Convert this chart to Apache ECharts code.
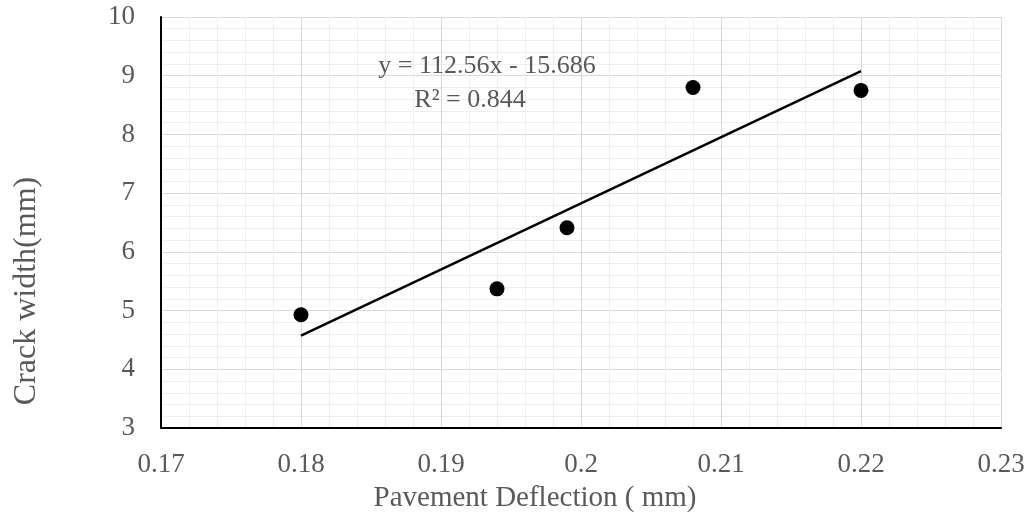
<!DOCTYPE html>
<html><head><meta charset="utf-8">
<script src="https://cdn.jsdelivr.net/npm/echarts@6/dist/echarts.min.js"></script>
<style>html,body{margin:0;padding:0;background:#fff}#c{width:1030px;height:515px}</style>
</head><body><div id="c"></div>
<script>
const deflection = [0.18, 0.194, 0.199, 0.208, 0.22];
const crackWidth = [4.93, 5.37, 6.41, 8.80, 8.75];
const slope = 112.56, intercept = -15.686;
const trendX = [0.18, 0.22];
const equationText = 'y = 112.56x - 15.686';
const r2Text = 'R² = 0.844';
const xTitle = 'Pavement Deflection ( mm)';
const yTitle = 'Crack width(mm)';

const trend = trendX.map(x => [x, slope * x + intercept]);
const font = 'Liberation Serif';
const grey = '#595959';
const chart = echarts.init(document.getElementById('c'));
chart.setOption({
  animation: false,
  grid: {left: 161, right: 29, top: 17, bottom: 87},
  xAxis: {
    type: 'value', min: 0.17, max: 0.23, interval: 0.01,
    axisLine: {show: true, lineStyle: {color: '#000', width: 2}},
    axisTick: {show: false},
    axisLabel: {color: grey, fontFamily: font, fontSize: 27, margin: 23, formatter: v => String(+v.toFixed(2))},
    splitLine: {show: true, lineStyle: {color: '#d9d9d9', width: 1}},
    minorSplitLine: {show: true, lineStyle: {color: '#efefef', width: 1}},
    minorTick: {show: false, splitNumber: 5}
  },
  yAxis: {
    type: 'value', min: 3, max: 10, interval: 1,
    axisLine: {show: true, lineStyle: {color: '#000', width: 2}},
    axisTick: {show: false},
    axisLabel: {color: grey, fontFamily: font, fontSize: 27, margin: 26},
    splitLine: {show: true, lineStyle: {color: '#d9d9d9', width: 1}},
    minorSplitLine: {show: true, lineStyle: {color: '#efefef', width: 1}},
    minorTick: {show: false, splitNumber: 5}
  },
  series: [
    {type: 'line', data: trend, symbol: 'none', lineStyle: {color: '#000', width: 2.5}, z: 2},
    {type: 'scatter', data: deflection.map((x, i) => [x, crackWidth[i]]), symbolSize: 15,
     itemStyle: {color: '#000', opacity: 1}, z: 3}
  ],
  graphic: [
    {type: 'text', x: 487, y: 66, z: 100,
     style: {text: equationText, font: '26px "Liberation Serif"', fill: grey, align: 'center', verticalAlign: 'middle'}},
    {type: 'text', x: 470, y: 100, z: 100,
     style: {text: r2Text, font: '26px "Liberation Serif"', fill: grey, align: 'center', verticalAlign: 'middle'}},
    {type: 'text', x: 535, y: 498, z: 100,
     style: {text: xTitle, font: '29px "Liberation Serif"', fill: grey, align: 'center', verticalAlign: 'middle'}},
    {type: 'text', x: 27, y: 291, rotation: Math.PI / 2, z: 100,
     style: {text: yTitle, font: '32px "Liberation Serif"', fill: grey, align: 'center', verticalAlign: 'middle'}}
  ]
});
</script></body></html>
